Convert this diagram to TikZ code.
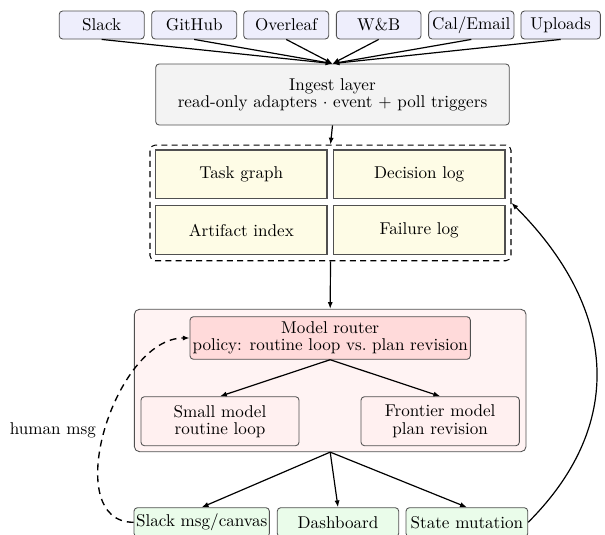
\documentclass[tikz,border=0pt]{standalone}
\usetikzlibrary{arrows.meta}
\definecolor{srcfill}{HTML}{EEEEFC}
\definecolor{ingestfill}{HTML}{F3F3F3}
\definecolor{storefill}{HTML}{FEFCE6}
\definecolor{outerfill}{HTML}{FFF3F3}
\definecolor{routerfill}{HTML}{FFDADA}
\definecolor{modelfill}{HTML}{FFF0F0}
\definecolor{outfill}{HTML}{EAFCEA}
\definecolor{border}{HTML}{505050}
\begin{document}
\begin{tikzpicture}[x=0.585pt,y=-0.585pt,
  every node/.style={font=\fontsize{10pt}{10pt}\selectfont, align=center, inner sep=0pt},
  wh/.style 2 args={minimum width=#1*0.585pt, minimum height=#2*0.585pt},
  srcbox/.style={draw=border, fill=srcfill, rounded corners=2pt, line width=0.5pt},
  ingestbox/.style={draw=border, fill=ingestfill, rounded corners=2pt, line width=0.5pt},
  storebox/.style={draw=border, fill=storefill, line width=0.8pt},
  groupbox/.style={draw=black, rounded corners=3pt, line width=0.6pt, dash pattern=on 3.5pt off 2.5pt},
  outerbox/.style={draw=border, fill=outerfill, rounded corners=3pt, line width=0.5pt},
  routerbox/.style={draw=border, fill=routerfill, rounded corners=2pt, line width=0.5pt},
  modelbox/.style={draw=border, fill=modelfill, rounded corners=2pt, line width=0.5pt},
  outbox/.style={draw=border, fill=outfill, rounded corners=2pt, line width=0.5pt},
  edge/.style={-{Latex[length=4pt,width=3pt]}, line width=0.7pt},
]
\useasboundingbox (0,0) rectangle (605,535);

% sources
\node[srcbox, wh={85}{28}] (slack) at (101.7,25) {Slack};
\node[srcbox, wh={85}{28}] (github) at (194.2,25) {GitHub};
\node[srcbox, wh={85}{28}] (overleaf) at (286.2,25) {Overleaf};
\node[srcbox, wh={84.7}{28}] (wandb) at (378.7,25) {W\&B};
\node[srcbox, wh={85.3}{28}] (cal) at (471.3,25) {Cal/Email};
\node[srcbox, wh={79.3}{28}] (uploads) at (560.7,25) {Uploads};

% ingest
\node[ingestbox, wh={353.6}{61}] (ingest) at (332.5,94.5) {Ingest layer\\read-only adapters $\cdot$ event + poll triggers};

% state store
\node[groupbox, wh={361}{115.7}] (store) at (330.5,202.9) {};
\node[storebox, wh={171.3}{48.3}] (task) at (241.35,174.15) {Task graph};
\node[storebox, wh={171.3}{48.3}] (decision) at (419.2,174.15) {Decision log};
\node[storebox, wh={171.3}{48.6}] (artifact) at (241.35,230) {Artifact index};
\node[storebox, wh={171.3}{48.6}] (failure) at (419.2,230) {Failure log};

% router block
\node[outerbox, wh={391.7}{142.4}] (outer) at (330.2,380.5) {};
\node[routerbox, wh={280.3}{42.6}] (router) at (330.2,338) {Model router\\policy: routine loop vs.\ plan revision};
\node[modelbox, wh={158}{49}] (small) at (220,421.2) {Small model\\routine loop};
\node[modelbox, wh={158.3}{49}] (frontier) at (440.2,421.2) {Frontier model\\plan revision};

% outputs
\node[outbox, wh={135.3}{29.2}] (slackout) at (201.7,522.3) {Slack msg/canvas};
\node[outbox, wh={121.4}{29.2}] (dash) at (338,522.3) {Dashboard};
\node[outbox, wh={121.7}{29.2}] (state) at (466.9,522.3) {State mutation};

% edges
\foreach \s in {slack,github,overleaf,wandb,cal,uploads}
  \draw[edge] (\s.south) -- (ingest.north);
\draw[edge] (ingest.south) -- (store.north);
\draw[edge] (store.south) -- (outer.north);
\draw[edge] (router.south) -- (small.north);
\draw[edge] (router.south) -- (frontier.north);
\draw[edge] (outer.south) -- (slackout.north);
\draw[edge] (outer.south) -- (dash.north);
\draw[edge] (outer.south) -- (state.north);

\draw[-{Latex[length=4pt,width=3pt]}, line width=0.8pt, dash pattern=on 4pt off 3pt]
  (slackout.west) to[out=180,in=180]
  node[pos=0.5, left, inner sep=5pt] (humanlbl) {human msg} (router.west);
\draw[-{Latex[length=4pt,width=3pt]}, line width=0.7pt]
  (state.east) to[out=45,in=-45,looseness=1.15] (store.east);
\end{tikzpicture}
\end{document}
